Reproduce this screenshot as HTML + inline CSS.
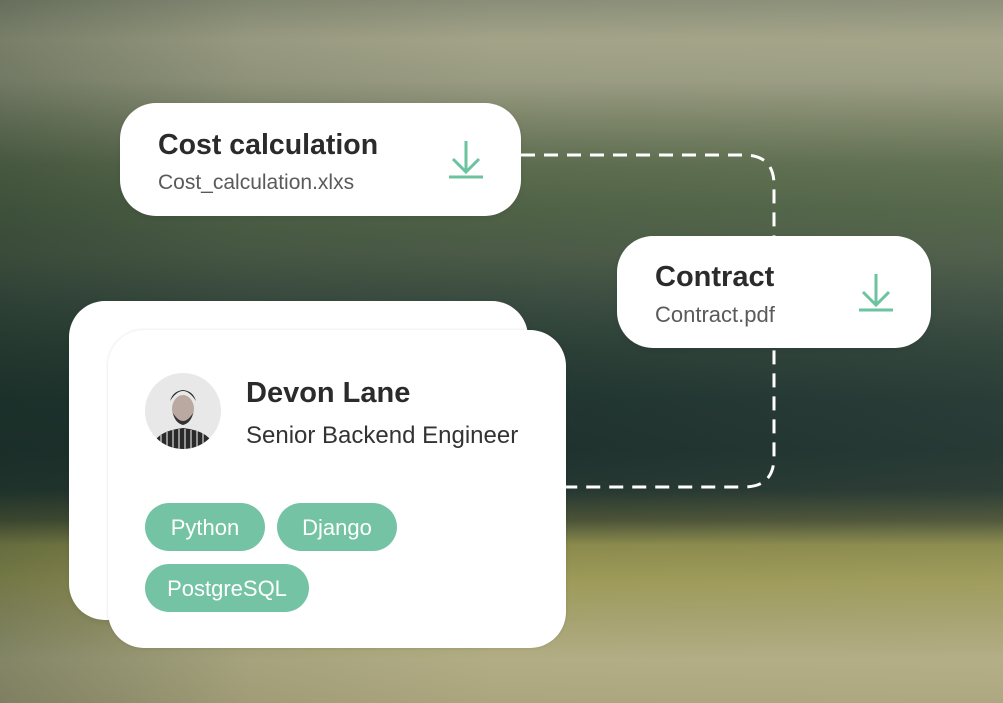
<!DOCTYPE html>
<html><head><meta charset="utf-8"><style>
html,body{margin:0;padding:0}
body{width:1003px;height:703px;position:relative;overflow:hidden;font-family:"Liberation Sans",sans-serif;
background:linear-gradient(180deg,#8a8e78 0px,#a3a388 40px,#9a9c82 80px,#7c8468 120px,#5c6c4e 165px,#4f6246 210px,#4a5a46 255px,#3a4c40 300px,#2a3e36 350px,#203430 400px,#1e312d 450px,#243630 490px,#4a5236 520px,#8a8a4c 545px,#9d9a58 580px,#a6a270 620px,#b2ad85 660px,#aca67e 703px);}
.ov{position:absolute;inset:0;background:linear-gradient(90deg,rgba(20,40,30,.3) 0,rgba(20,40,30,.08) 250px,rgba(0,0,0,0) 500px,rgba(200,200,170,.06) 1003px)}
.card{position:absolute;background:#fff;border-radius:36px;box-shadow:0 2px 6px rgba(0,0,0,.08)}
.t{position:absolute;color:#2b2b2b;font-weight:bold;white-space:nowrap}
.s{position:absolute;color:#5a5a5a;white-space:nowrap}
.pill{position:absolute;background:#74c3a5;color:#fff;border-radius:24px;height:48px;line-height:50px;text-align:center;font-size:22px}
</style></head><body>
<div class="ov"></div>
<svg width="1003" height="703" style="position:absolute;left:0;top:0">
<path d="M521 155 H744 Q774 155 774 185 V457 Q774 487 744 487 H560" fill="none" stroke="#fff" stroke-width="3" stroke-dasharray="14 9"/>
</svg>
<div class="card" style="left:120px;top:103px;width:401px;height:113px"></div>
<div class="t" style="left:158px;top:129px;font-size:28.5px">Cost calculation</div>
<div class="s" style="left:158px;top:171px;font-size:21px">Cost_calculation.xlxs</div>
<svg style="position:absolute;left:445px;top:138px" width="42" height="44"><g stroke="#6cc3a0" stroke-width="3" fill="none"><path d="M21 3V33M8 21L21 34L34 21"/><path d="M4 39H38"/></g></svg>

<div class="card" style="left:617px;top:236px;width:314px;height:112px"></div>
<div class="t" style="left:655px;top:261px;font-size:29px">Contract</div>
<div class="s" style="left:655px;top:302px;font-size:22px">Contract.pdf</div>
<svg style="position:absolute;left:855px;top:271px" width="42" height="44"><g stroke="#6cc3a0" stroke-width="3" fill="none"><path d="M21 3V33M8 21L21 34L34 21"/><path d="M4 39H38"/></g></svg>

<div class="card" style="left:69px;top:301px;width:459px;height:319px"></div>
<div class="card" style="left:108px;top:330px;width:458px;height:318px;box-shadow:0 0 3px rgba(0,0,0,.12)"></div>
<svg style="position:absolute;left:145px;top:373px" width="76" height="76">
<defs><clipPath id="c"><circle cx="38" cy="38" r="38"/></clipPath></defs>
<g clip-path="url(#c)"><rect width="76" height="76" fill="#e8e8e8"/>
<ellipse cx="38" cy="36" rx="11" ry="14" fill="#b9a9a0"/>
<path d="M25 28 Q38 8 51 28 Q48 18 38 17 Q28 18 25 28Z" fill="#2a2a2a"/>
<path d="M28 40 Q38 56 48 40 Q46 50 38 52 Q30 50 28 40Z" fill="#333"/>
<path d="M6 76 Q10 58 38 55 Q66 58 70 76Z" fill="#2a2a2a"/>
<g stroke="#ddd" stroke-width="1.2"><path d="M16 62V76M22 59V76M28 57V76M34 56V76M40 56V76M46 57V76M52 58V76M58 60V76"/></g></g></svg>
<div class="t" style="left:246px;top:377px;font-size:29px">Devon Lane</div>
<div class="s" style="left:246px;top:422px;font-size:24px;color:#333">Senior Backend Engineer</div>
<div class="pill" style="left:145px;top:503px;width:120px">Python</div>
<div class="pill" style="left:277px;top:503px;width:120px">Django</div>
<div class="pill" style="left:145px;top:564px;width:164px">PostgreSQL</div>
</body></html>
